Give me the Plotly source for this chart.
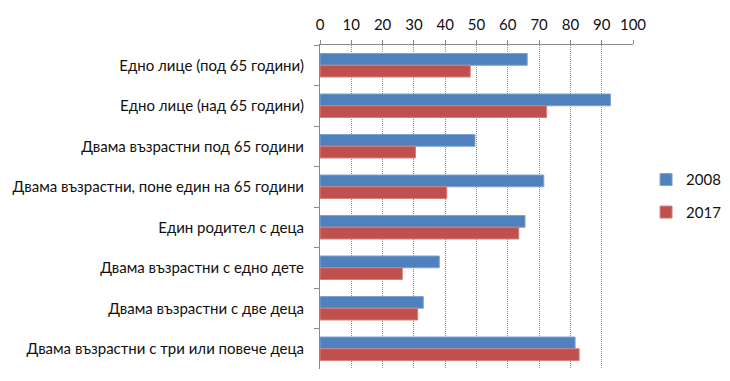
import plotly.graph_objects as go

categories = [
    "Едно лице (под 65 години)",
    "Едно лице (над 65 години)",
    "Двама възрастни под 65 години",
    "Двама възрастни, поне един на 65 години",
    "Един родител с деца",
    "Двама възрастни с едно дете",
    "Двама възрастни с две деца",
    "Двама възрастни с три или повече деца",
]
values_2008 = [66.2, 92.8, 49.5, 71.5, 65.5, 38.1, 33.0, 81.5]
values_2017 = [48.0, 72.4, 30.5, 40.5, 63.5, 26.3, 31.2, 82.8]
series_names = ["2008", "2017"]
x_ticks = [0, 10, 20, 30, 40, 50, 60, 70, 80, 90, 100]

FONT = "Lato"
TXT = "#111111"
fig = go.Figure()
fig.add_trace(go.Bar(
    y=categories, x=values_2008, name=series_names[0], orientation="h",
    legendgroup="g1",
    marker=dict(color="#4F81BD", line=dict(color="#7EA3D3", width=1)),
))
fig.add_trace(go.Bar(
    y=categories, x=values_2017, name=series_names[1], orientation="h",
    legendgroup="g2",
    marker=dict(color="#C0504D", line=dict(color="#D3817F", width=1)),
))

fig.update_layout(
    width=730, height=381,
    margin=dict(l=320, r=97, t=45, b=12, autoexpand=False),
    paper_bgcolor="white", plot_bgcolor="white",
    barmode="group", bargap=0.42, bargroupgap=0,
    font=dict(family=FONT, size=15, color=TXT),
    showlegend=True,
    legend=dict(xref="container", yref="container", x=0.885, y=0.486,
                xanchor="left", yanchor="middle", traceorder="grouped",
                font=dict(family=FONT, size=15, color=TXT),
                tracegroupgap=10, itemwidth=30),
    xaxis=dict(
        side="top", range=[0, 100], tickvals=x_ticks,
        showgrid=True, gridcolor="#8c8c8c", griddash="1px,1px", gridwidth=1,
        showline=True, linecolor="#8a8a8a", linewidth=1,
        ticks="outside", ticklen=4, tickcolor="#8a8a8a",
        zeroline=False, tickfont=dict(size=15), ticklabelstandoff=4,
    ),
    yaxis=dict(
        autorange="reversed", showline=True, linecolor="#8a8a8a", linewidth=1,
        ticks="outside", ticklen=5, tickcolor="#8a8a8a", tickson="boundaries",
        showgrid=False, tickfont=dict(size=15), ticklabelstandoff=12,
    ),
)

fig.write_html("out.html", config={"displayModeBar": False},
               post_script="document.body.style.margin='0';")
